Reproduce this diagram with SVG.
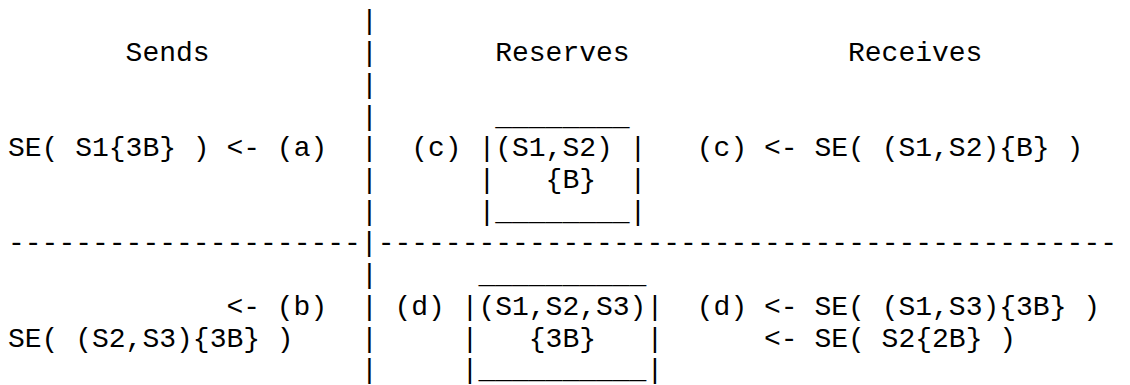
<svg xmlns="http://www.w3.org/2000/svg" width="1130" height="385" viewBox="0 0 1130 385" xml:space="preserve">
<style>
text { font-family: "Liberation Mono", "Courier New", monospace; font-size: 28px; fill: #000; white-space: pre; }
</style>
<rect x="0" y="0" width="1130" height="385" fill="#fff"/>
<g id="connectors">
  <text id="divider-vertical"><tspan x="361" y="29.3">|</tspan><tspan x="361" y="61.0">|</tspan><tspan x="361" y="92.8">|</tspan><tspan x="361" y="124.5">|</tspan><tspan x="361" y="156.2">|</tspan><tspan x="361" y="188.0">|</tspan><tspan x="361" y="219.7">|</tspan><tspan x="361" y="283.1">|</tspan><tspan x="361" y="314.9">|</tspan><tspan x="361" y="346.6">|</tspan><tspan x="361" y="378.3">|</tspan></text>
  <text id="divider-horizontal" x="8" y="251.4">---------------------|--------------------------------------------</text>
</g>
<g id="headers">
  <text x="125.6" y="61.0">Sends</text>
  <text x="495.2" y="61.0">Reserves</text>
  <text x="848" y="61.0">Receives</text>
</g>
<g id="sends-a">
  <text x="8" y="156.2">SE( S1{3B} ) &lt;- (a)</text>
</g>
<g id="sends-b">
  <text x="226.4" y="314.9">&lt;- (b)</text>
  <text x="8" y="346.6">SE( (S2,S3){3B} )</text>
</g>
<g id="reserve-c">
  <text x="411.2" y="156.2">(c)</text>
  <text x="495.2" y="124.5">________</text>
  <text x="478.4" y="156.2">|(S1,S2) |</text>
  <text x="478.4" y="188.0">|   {B}  |</text>
  <text x="478.4" y="219.7">|________|</text>
</g>
<g id="reserve-d">
  <text x="394.4" y="314.9">(d)</text>
  <text x="478.4" y="283.1">__________</text>
  <text x="461.6" y="314.9">|(S1,S2,S3)|</text>
  <text x="461.6" y="346.6">|   {3B}   |</text>
  <text x="461.6" y="378.3">|__________|</text>
</g>
<g id="receives-c">
  <text x="696.8" y="156.2">(c) &lt;- SE( (S1,S2){B} )</text>
</g>
<g id="receives-d">
  <text x="696.8" y="314.9">(d) &lt;- SE( (S1,S3){3B} )</text>
  <text x="764" y="346.6">&lt;- SE( S2{2B} )</text>
</g>
</svg>
